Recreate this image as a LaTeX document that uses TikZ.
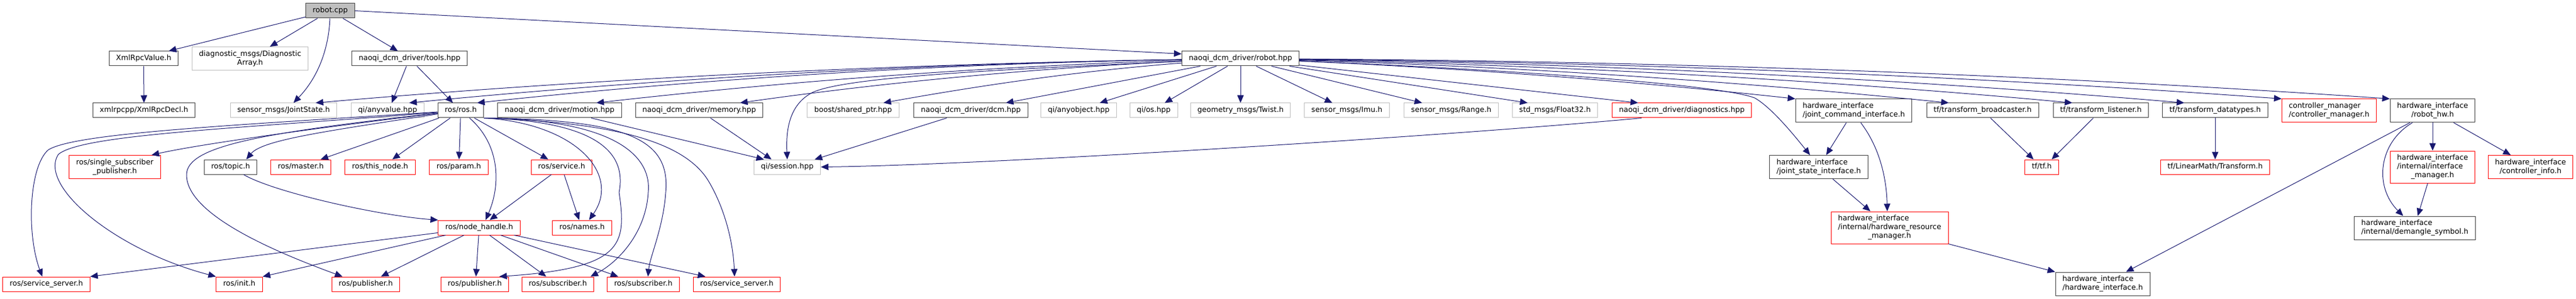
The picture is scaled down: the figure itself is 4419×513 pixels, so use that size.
\documentclass[tikz,border=0pt]{standalone}
\usepackage{fontspec}
\setmainfont{DejaVu Sans}
\usepackage{xcolor}
\definecolor{colorEdge}{RGB}{25,25,112}
\definecolor{colorDoc}{RGB}{64,64,64}
\definecolor{colorExt}{RGB}{191,191,191}
\colorlet{colorCut}{red}
\usepackage{tikz}
\usetikzlibrary{arrows.meta}
\tikzset{
  inc/.style={draw=colorDoc, line width=1pt, fill=white, inner xsep=12pt, inner ysep=0pt,
    minimum height=25pt, align=center, font=\fontsize{12.6}{15}\selectfont,
    execute at begin node={\vphantom{hp}}, execute at end node={\vphantom{hp}}},
  ext/.style={inc, draw=colorExt},
  cut/.style={inc, draw=colorCut},
  src/.style={inc, fill=colorExt},
  two/.style={minimum height=40pt},
  three/.style={minimum height=55pt},
  dep/.style={->, draw=colorEdge, line width=1pt},
}

\begin{document}
\begin{tikzpicture}[x=1pt, y=-1pt, >={Triangle[length=13pt,width=11pt]}]
\useasboundingbox (0,0) rectangle (4419,513);
\node[src] (rcpp) at (566.5,18.5) {robot.cpp};
\node[inc] (xmlval) at (246.5,100.5) {XmlRpcValue.h};
\node[ext, two] (diag) at (429,100.5) {diagnostic\_msgs/Diagnostic\\Array.h};
\node[inc] (tools) at (702.5,100.5) {naoqi\_dcm\_driver/tools.hpp};
\node[inc] (robothpp) at (2128,100.5) {naoqi\_dcm\_driver/robot.hpp};
\node[inc] (xmldecl) at (247,189.5) {xmlrpcpp/XmlRpcDecl.h};
\node[ext] (jstate) at (486.5,189.5) {sensor\_msgs/JointState.h};
\node[ext] (anyval) at (665,189.5) {qi/anyvalue.hpp};
\node[inc] (rosh) at (790.5,189.5) {ros/ros.h};
\node[inc] (motion) at (960,189.5) {naoqi\_dcm\_driver/motion.hpp};
\node[inc] (memory) at (1199.5,189.5) {naoqi\_dcm\_driver/memory.hpp};
\node[ext] (shptr) at (1463.5,189.5) {boost/shared\_ptr.hpp};
\node[inc] (dcm) at (1665.5,189.5) {naoqi\_dcm\_driver/dcm.hpp};
\node[ext] (anyobj) at (1850.5,189.5) {qi/anyobject.hpp};
\node[ext] (qios) at (1979,189.5) {qi/os.hpp};
\node[ext] (twist) at (2128,189.5) {geometry\_msgs/Twist.h};
\node[ext] (imu) at (2310.5,189.5) {sensor\_msgs/Imu.h};
\node[ext] (range) at (2489.5,189.5) {sensor\_msgs/Range.h};
\node[ext] (flt) at (2667.5,189.5) {std\_msgs/Float32.h};
\node[cut] (diagn) at (2885,189.5) {naoqi\_dcm\_driver/diagnostics.hpp};
\node[inc, two, align=left] (jci) at (3180,190) {hardware\_interface\\/joint\_command\_interface.h};
\node[inc] (tfb) at (3401,189.5) {tf/transform\_broadcaster.h};
\node[inc] (tfl) at (3604,189.5) {tf/transform\_listener.h};
\node[inc] (tfd) at (3800,189.5) {tf/transform\_datatypes.h};
\node[cut, two, align=left] (cm) at (3995.5,190) {controller\_manager\\/controller\_manager.h};
\node[inc, two] (rhw) at (4173,190) {hardware\_interface\\/robot\_hw.h};
\node[cut, two] (ssp) at (197,286.5) {ros/single\_subscriber\\\_publisher.h};
\node[inc] (topic) at (395.5,286.5) {ros/topic.h};
\node[cut] (master) at (516,286.5) {ros/master.h};
\node[cut] (thisnode) at (652,286.5) {ros/this\_node.h};
\node[cut] (param) at (787,286.5) {ros/param.h};
\node[cut] (service) at (963.5,286.5) {ros/service.h};
\node[ext] (session) at (1350.5,286.5) {qi/session.hpp};
\node[inc, two, align=left] (jsi) at (3120,286.5) {hardware\_interface\\/joint\_state\_interface.h};
\node[cut] (tf) at (3502.5,286.5) {tf/tf.h};
\node[cut] (ltf) at (3800,286.5) {tf/LinearMath/Transform.h};
\node[cut, three] (im) at (4173,286.5) {\begin{tabular}{@{}l@{}}hardware\_interface\\/internal/interface\\\multicolumn{1}{@{}c@{}}{\_manager.h}\end{tabular}};
\node[cut, two] (ci) at (4341,286.5) {hardware\_interface\\/controller\_info.h};
\node[cut] (nh) at (822,390.5) {ros/node\_handle.h};
\node[cut] (names) at (998.5,390.5) {ros/names.h};
\node[cut, three] (hrm) at (3241.5,390.5) {\begin{tabular}{@{}l@{}}hardware\_interface\\/internal/hardware\_resource\\\multicolumn{1}{@{}c@{}}{\_manager.h}\end{tabular}};
\node[inc, two, align=left] (dem) at (4142.5,391) {hardware\_interface\\/internal/demangle\_symbol.h};
\node[cut] (ssl) at (79.5,487.5) {ros/service\_server.h};
\node[cut] (init) at (410.5,487.5) {ros/init.h};
\node[cut] (pub1) at (627.5,487.5) {ros/publisher.h};
\node[cut] (pub2) at (814.5,487.5) {ros/publisher.h};
\node[cut] (sub1) at (957,487.5) {ros/subscriber.h};
\node[cut] (sub2) at (1103.5,487.5) {ros/subscriber.h};
\node[cut] (ss2) at (1264,487.5) {ros/service\_server.h};
\node[inc, two, align=left] (hwi) at (3607,487) {hardware\_interface\\/hardware\_interface.h};

\draw [dep] (rcpp) -- ([xshift=43pt]xmlval.north);
\draw [dep] (rcpp) -- ([xshift=34pt]diag.north);
\draw [dep] (rcpp) .. controls (564,80) and (548,130) .. ([xshift=17pt]jstate.north);
\draw [dep] (rcpp) -- ([xshift=-20pt]tools.north);
\draw [dep] (rcpp.east) -- ([yshift=-5pt]robothpp.north west);
\draw [dep] (xmlval) -- (xmldecl);
\draw [dep] (tools) -- ([xshift=7pt]anyval.north);
\draw [dep] (tools) -- ([xshift=-13.5pt]rosh.north);
\draw [dep] (robothpp) .. controls (1540,110) and (1030,134) .. ([xshift=55pt]jstate.north);
\draw [dep] (robothpp) .. controls (1590,109) and (1139,134) .. ([xshift=37pt]anyval.north);
\draw [dep] (robothpp) .. controls (1628,109) and (1217,134) .. ([xshift=28pt]rosh.north);
\draw [dep] (robothpp) .. controls (1696,114) and (1354,139) .. ([xshift=63pt]motion.north);
\draw [dep] (robothpp) .. controls (1777,117) and (1519,141) .. ([xshift=70pt]memory.north);
\draw [dep] (robothpp) .. controls (1858,121) and (1684,146) .. ([xshift=52pt]shptr.north);
\draw [dep] (robothpp) -- ([xshift=60pt]dcm.north);
\draw [dep] (robothpp) .. controls (1750,118) and (1460,130) .. (1395,158) .. controls (1355,178) and (1348,220) .. (session.north);
\draw [dep] (robothpp) -- ([xshift=36pt]anyobj.north);
\draw [dep] (robothpp) -- ([xshift=19pt]qios.north);
\draw [dep] (robothpp) -- (twist);
\draw [dep] (robothpp) -- ([xshift=-25pt]imu.north);
\draw [dep] (robothpp) -- ([xshift=-50pt]range.north);
\draw [dep] (robothpp) -- ([xshift=-47pt]flt.north);
\draw [dep] (robothpp) -- ([xshift=-75pt]diagn.north);
\draw [dep] (robothpp) .. controls (2510,117) and (2799,139) .. (jci.north west);
\draw [dep] (robothpp) .. controls (2600,120) and (2950,145) .. (3010,168) .. controls (3040,185) and (3080,235) .. ([xshift=-15pt]jsi.north);
\draw [dep] (robothpp) .. controls (2597,114) and (2975,139) .. ([xshift=-58pt]tfb.north);
\draw [dep] (robothpp) .. controls (2667,112) and (3117,136) .. ([xshift=-49pt]tfl.north);
\draw [dep] (robothpp) .. controls (2730,109) and (3246,134) .. ([xshift=-53pt]tfd.north);
\draw [dep] (robothpp) .. controls (2785,107) and (3358,129) .. (cm.north west);
\draw [dep] (robothpp) .. controls (2847,105) and (3483,127) .. (rhw.north west);
\draw [dep] (motion) -- ([xshift=-40pt]session.north);
\draw [dep] (memory) -- ([xshift=-27pt]session.north);
\draw [dep] (dcm) -- ([xshift=47pt]session.north);
\draw [dep] ([xshift=-69pt]diagn.south) .. controls (2500,232) and (1700,283) .. (session.east);
\draw [dep] (rosh) .. controls (500,225) and (330,250) .. ([xshift=63pt]ssp.north);
\draw [dep] (rosh) .. controls (400,215) and (130,228) .. (83,257) .. controls (50,285) and (45,400) .. ([xshift=-7pt]ssl.north);
\draw [dep] (rosh) .. controls (420,220) and (140,230) .. (100,265) .. controls (65,320) and (200,430) .. (init.north west);
\draw [dep] (rosh) .. controls (450,228) and (320,250) .. (320,300) .. controls (320,370) and (480,435) .. ([xshift=-40pt]pub1.north);
\draw [dep] (rosh) .. controls (560,225) and (450,240) .. ([xshift=27pt]topic.north);
\draw [dep] (rosh) -- ([xshift=34pt]master.north);
\draw [dep] (rosh) -- ([xshift=21pt]thisnode.north);
\draw [dep] (rosh) -- (param);
\draw [dep] (rosh) -- ([xshift=-23pt]service.north);
\draw [dep] (rosh) .. controls (860,250) and (858,320) .. ([xshift=11pt]nh.north);
\draw [dep] (rosh.south east) .. controls (990,212) and (1065,300) .. ([xshift=12pt]names.north);
\draw [dep] (rosh.south east) .. controls (1030,208) and (1075,265) .. (1062,330) .. controls (1075,420) and (1070,460) .. ([xshift=42pt]pub2.north);
\draw [dep] (rosh.south east) .. controls (1060,205) and (1118,270) .. (1112,330) .. controls (1108,400) and (1060,450) .. ([xshift=56pt]sub1.north);
\draw [dep] (rosh.south east) .. controls (1080,205) and (1150,240) .. (1142,330) .. controls (1138,390) and (1115,440) .. ([xshift=8pt]sub2.north);
\draw [dep] (rosh.south east) .. controls (1060,210) and (1175,245) .. (1215,310) .. controls (1245,360) and (1258,420) .. ([xshift=-4pt]ss2.north);
\draw [dep] (topic) .. controls (470,330) and (650,370) .. (nh.north west);
\draw [dep] (service) -- ([xshift=18pt]nh.north);
\draw [dep] (service) -- ([xshift=-5pt]names.north);
\draw [dep] (nh) -- ([xshift=2pt]pub2.north);
\draw [dep] (nh) -- ([xshift=-20pt]sub1.north);
\draw [dep] (nh) -- ([xshift=-43pt]sub2.north);
\draw [dep] (nh) -- ([xshift=-54pt]ss2.north);
\draw [dep] (nh) -- ([xshift=26pt]pub1.north);
\draw [dep] (nh) -- (init.north east);
\draw [dep] (nh) -- (ssl.north east);
\draw [dep] (jci) -- (jsi);
\draw [dep] ([xshift=12pt]jci.south) .. controls (3222,250) and (3236,300) .. ([xshift=-4pt]hrm.north);
\draw [dep] (jsi) -- ([xshift=-33pt]hrm.north);
\draw [dep] (hrm.south east) -- (hwi.north west);
\draw [dep] (rhw) -- ([xshift=40pt]hwi.north);
\draw [dep] (rhw) -- (im);
\draw [dep] (rhw) -- ([xshift=-34pt]ci.north);
\draw [dep] (rhw) .. controls (4080,245) and (4072,320) .. ([xshift=-20pt]dem.north);
\draw [dep] (im) -- ([xshift=5pt]dem.north);
\draw [dep] (tfb) -- ([xshift=-14pt]tf.north);
\draw [dep] (tfl) -- ([xshift=17pt]tf.north);
\draw [dep] (tfd) -- (ltf);
\end{tikzpicture}
\end{document}
